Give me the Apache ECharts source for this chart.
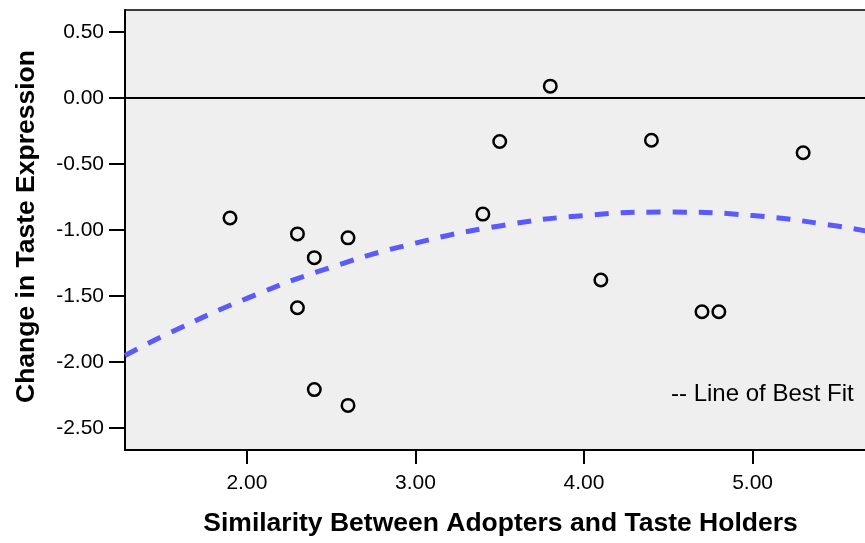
<!DOCTYPE html>
<html>
<head>
<meta charset="utf-8">
<script src="https://cdn.jsdelivr.net/npm/echarts@6/dist/echarts.min.js"></script>
<style>
html,body{margin:0;padding:0;background:#fff;}
#chart{width:865px;height:543px;}
</style>
</head>
<body>
<div id="chart"></div>
<script>
// Observed data points (similarity, change in taste expression)
var pointX = [1.9, 2.3, 2.6, 2.4, 2.3, 2.4, 2.6, 3.8, 3.5, 4.4, 3.4, 4.1, 4.7, 4.8, 5.3];
var pointY = [-0.91, -1.03, -1.06, -1.21, -1.59, -2.21, -2.33, 0.09, -0.33, -0.32, -0.88, -1.38, -1.62, -1.62, -0.415];

// Line of best fit
var fitX = [1.277, 1.5, 2.0, 2.5, 3.0, 3.5, 4.0, 4.5, 5.0, 5.5, 5.75];
var fitY = [-1.952, -1.806, -1.519, -1.283, -1.100, -0.970, -0.891, -0.865, -0.891, -0.970, -1.028];

// Tick labels
var xTicks = [2, 3, 4, 5];
var yTicks = [-2.5, -2.0, -1.5, -1.0, -0.5, 0.0, 0.5];

var xTitle = 'Similarity Between Adopters and Taste Holders';
var yTitle = 'Change in Taste Expression';
var legendText = '-- Line of Best Fit';

var FONT = '"Liberation Sans", Arial, sans-serif';

var scatterData = pointX.map(function (x, i) { return [x, pointY[i]]; });
var fitData = fitX.map(function (x, i) { return [x, fitY[i]]; });

var chart = echarts.init(document.getElementById('chart'), null, {renderer: 'canvas'});
chart.setOption({
  animation: false,
  backgroundColor: '#ffffff',
  textStyle: {fontFamily: FONT},
  grid: {
    left: 125, top: 10, bottom: 93, right: 0,
    show: true, backgroundColor: '#efefef', borderWidth: 0,
    containLabel: false
  },
  xAxis: [
    {
      type: 'value', min: 1.277, max: 5.667, position: 'bottom',
      name: xTitle, nameLocation: 'middle', nameGap: 60,
      nameTextStyle: {fontFamily: FONT, fontSize: 26.5, fontWeight: 'bold', color: '#000', padding: [0, 0, 0, 11]},
      axisLine: {show: true, onZero: false, lineStyle: {color: '#000', width: 2}},
      axisTick: {show: true, length: 14, customValues: xTicks, lineStyle: {color: '#000', width: 2}},
      axisLabel: {show: true, customValues: xTicks, margin: 23, fontFamily: FONT, fontSize: 21, color: '#000',
        formatter: function (v) { return v.toFixed(2); }},
      splitLine: {show: false}
    },
    {
      type: 'value', min: 1.277, max: 5.667, position: 'top',
      axisLine: {show: true, onZero: false, lineStyle: {color: '#000', width: 1.5}},
      axisTick: {show: false}, axisLabel: {show: false}, splitLine: {show: false}
    }
  ],
  yAxis: {
    type: 'value', min: -2.668, max: 0.667,
    name: yTitle, nameLocation: 'middle', nameGap: 85,
    nameTextStyle: {fontFamily: FONT, fontSize: 26.5, fontWeight: 'bold', color: '#000', padding: [0, 0, 0, 7]},
    axisLine: {show: true, onZero: false, lineStyle: {color: '#000', width: 2}},
    axisTick: {show: true, length: 16, customValues: yTicks, lineStyle: {color: '#000', width: 2}},
    axisLabel: {show: true, customValues: yTicks, margin: 21, fontFamily: FONT, fontSize: 21, color: '#000',
      formatter: function (v) { return v.toFixed(2); }},
    splitLine: {show: false}
  },
  series: [
    {
      type: 'line',
      data: fitData,
      smooth: true,
      showSymbol: false,
      symbol: 'none',
      silent: true,
      lineStyle: {color: '#5a5aff', width: 5, type: [14, 12]},
      z: 2,
      markLine: {
        silent: true,
        symbol: ['none', 'none'],
        label: {show: false},
        lineStyle: {color: '#000', width: 2, type: 'solid'},
        data: [{yAxis: 0}]
      }
    },
    {
      type: 'scatter',
      data: scatterData,
      symbol: 'circle',
      symbolSize: 12.5,
      itemStyle: {color: 'rgba(0,0,0,0)', borderColor: '#000', borderWidth: 2.5, opacity: 1},
      z: 3
    }
  ],
  graphic: [
    {
      type: 'text',
      left: 671,
      top: 382,
      style: {text: legendText, fontFamily: FONT, fontSize: 24, fill: '#000'}
    }
  ]
});
</script>
</body>
</html>
